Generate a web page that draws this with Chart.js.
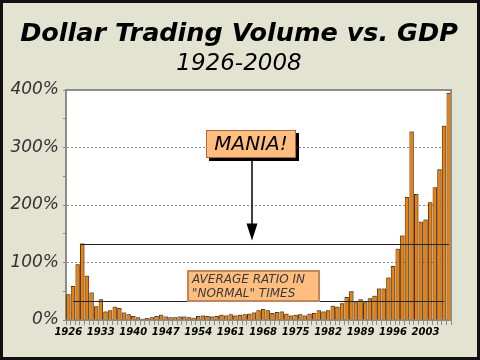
<!DOCTYPE html>
<html>
<head>
<meta charset="utf-8">
<script src="https://cdn.jsdelivr.net/npm/chart.js@4/dist/chart.umd.min.js"></script>
<style>
  html, body { margin: 0; padding: 0; background: #E3E3D1; }
  #wrap { width: 480px; height: 360px; position: relative; }
</style>
</head>
<body>
<div id="wrap"><canvas id="c" width="480" height="360"></canvas></div>
<script>
const titleText = "Dollar Trading Volume vs. GDP";
const subtitleText = "1926-2008";
const years = [
  "1926","1927","1928","1929","1930","1931","1932","1933","1934","1935",
  "1936","1937","1938","1939","1940","1941","1942","1943","1944","1945",
  "1946","1947","1948","1949","1950","1951","1952","1953","1954","1955",
  "1956","1957","1958","1959","1960","1961","1962","1963","1964","1965",
  "1966","1967","1968","1969","1970","1971","1972","1973","1974","1975",
  "1976","1977","1978","1979","1980","1981","1982","1983","1984","1985",
  "1986","1987","1988","1989","1990","1991","1992","1993","1994","1995",
  "1996","1997","1998","1999","2000","2001","2002","2003","2004","2005",
  "2006","2007","2008"
];
const ratioPct = [
  45, 59, 97, 133, 77, 48, 24, 36, 15, 17,
  23, 21, 13, 10, 7, 5, 2, 3.5, 5, 7,
  9, 6, 5, 5, 6, 6, 5, 4, 7, 8,
  7, 6, 7, 9, 8, 10, 8, 9, 10, 11,
  13, 17, 19, 17, 12, 14, 15, 11, 8, 9,
  10, 8, 11, 12, 17, 15, 17, 25, 23, 29,
  40, 50, 31, 36, 31, 38, 42, 55, 55, 74,
  94, 124, 147, 214, 328, 219, 171, 175, 205, 231,
  262, 338, 395
];
const xTickLabels = ["1926","1933","1940","1947","1954","1961","1968","1975","1982","1989","1996","2003"];
const yTickLabels = [0, 100, 200, 300, 400];
const maniaLevel = 133;
const maniaLineFrom = "1929";
const normalLevel = 33;
const normalLineFrom = "1927";
const normalLineTo = "2007";
const maniaLabel = "MANIA!";
const normalLabelLines = ["AVERAGE RATIO IN", "\"NORMAL\" TIMES"];

const bgPlugin = {
  id: 'bg',
  beforeDraw(chart) {
    const ctx = chart.ctx, a = chart.chartArea;
    ctx.save();
    ctx.fillStyle = '#E3E3D1';
    ctx.fillRect(0, 0, chart.width, chart.height);
    ctx.fillStyle = '#FFFFFF';
    ctx.fillRect(a.left, a.top, a.right - a.left, a.bottom - a.top);
    ctx.fillStyle = '#000';
    ctx.textAlign = 'center';
    ctx.textBaseline = 'alphabetic';
    ctx.font = 'italic bold 25.5px "DejaVu Sans"';
    ctx.fillText(titleText, 239, 41);
    ctx.font = 'italic 23px "DejaVu Sans"';
    ctx.fillText(subtitleText, 239, 70);
    ctx.restore();
  },
  beforeDatasetsDraw(chart) {
    const ctx = chart.ctx;
    ctx.save();
    ctx.shadowColor = 'rgba(90,90,90,0.6)';
    ctx.shadowOffsetX = 1;
    ctx.shadowOffsetY = -1;
    ctx.shadowBlur = 0;
  },
  afterDatasetsDraw(chart) {
    const ctx = chart.ctx, a = chart.chartArea;
    ctx.restore();
    const xs = chart.scales.x, ys = chart.scales.y;
    const half = (xs.getPixelForValue(1) - xs.getPixelForValue(0)) / 2;
    ctx.save();
    // frame
    ctx.strokeStyle = '#8c8c8c';
    ctx.lineWidth = 2;
    ctx.beginPath();
    ctx.moveTo(a.left, a.top); ctx.lineTo(a.right, a.top); ctx.lineTo(a.right, a.bottom);
    ctx.stroke();
    // mania line
    ctx.strokeStyle = '#222';
    ctx.lineWidth = 1.2;
    let y1 = Math.round(ys.getPixelForValue(maniaLevel)) + 0.5;
    ctx.beginPath();
    ctx.moveTo(xs.getPixelForValue(years.indexOf(maniaLineFrom)) - half, y1);
    ctx.lineTo(a.right - 2, y1);
    ctx.stroke();
    // normal line
    let y2 = Math.round(ys.getPixelForValue(normalLevel)) + 0.5;
    ctx.beginPath();
    ctx.moveTo(xs.getPixelForValue(years.indexOf(normalLineFrom)), y2);
    ctx.lineTo(xs.getPixelForValue(years.indexOf(normalLineTo)), y2);
    ctx.stroke();

    // MANIA box with shadow
    const bx = 206, by = 130, bw = 90, bh = 28;
    ctx.fillStyle = '#000';
    ctx.fillRect(bx + 3, by + 3, bw, bh);
    ctx.fillStyle = '#FFBE80';
    ctx.fillRect(bx, by, bw, bh);
    ctx.strokeStyle = '#A86A3A';
    ctx.lineWidth = 1;
    ctx.strokeRect(bx + 0.5, by + 0.5, bw - 1, bh - 1);
    ctx.fillStyle = '#000';
    ctx.font = 'italic 20px "DejaVu Sans"';
    ctx.textAlign = 'center';
    ctx.textBaseline = 'middle';
    ctx.fillText(maniaLabel, bx + bw / 2, by + bh / 2 + 1);
    // arrow
    const ax = 252;
    const tipY = y1 - 4;
    ctx.strokeStyle = '#000';
    ctx.lineWidth = 1.5;
    ctx.beginPath();
    ctx.moveTo(ax, by + bh); ctx.lineTo(ax, tipY - 12);
    ctx.stroke();
    ctx.beginPath();
    ctx.moveTo(ax - 5.5, tipY - 17); ctx.lineTo(ax + 5.5, tipY - 17); ctx.lineTo(ax, tipY);
    ctx.closePath();
    ctx.fillStyle = '#000';
    ctx.fill();

    // normal box
    const nx = 187, ny = 270, nw = 133, nh = 32;
    ctx.fillStyle = '#FFBE80';
    ctx.fillRect(nx, ny, nw, nh);
    ctx.strokeStyle = '#C0855A';
    ctx.lineWidth = 2;
    ctx.strokeRect(nx + 1, ny + 1, nw - 2, nh - 2);
    ctx.fillStyle = '#3a3a3a';
    ctx.font = 'italic 12px "DejaVu Sans"';
    ctx.textAlign = 'left';
    ctx.fillText(normalLabelLines[0], nx + 5, ny + 9.5);
    ctx.fillText(normalLabelLines[1], nx + 5, ny + 23.5);

    // outer border
    ctx.strokeStyle = '#111';
    ctx.lineWidth = 3;
    ctx.strokeRect(1.5, 1.5, chart.width - 3, chart.height - 3);
    ctx.restore();
  }
};

new Chart(document.getElementById('c'), {
  type: 'bar',
  data: {
    labels: years,
    datasets: [{
      data: ratioPct,
      backgroundColor: '#F08000',
      borderColor: '#5A2A00',
      borderWidth: 1,
      borderSkipped: 'bottom',
      barPercentage: 0.95,
      categoryPercentage: 1.0
    }]
  },
  options: {
    responsive: false,
    animation: false,
    devicePixelRatio: 1,
    layout: { padding: { top: 90, left: 0, right: 29, bottom: 14 } },
    plugins: { legend: { display: false }, tooltip: { enabled: false }, title: { display: false } },
    scales: {
      x: {
        afterFit(s) { s.height = 26; },
        grid: { drawOnChartArea: false, drawTicks: true, tickLength: 5, tickColor: '#8c8c8c' },
        border: { color: '#8c8c8c', width: 2 },
        ticks: {
          autoSkip: false, maxRotation: 0, minRotation: 0, padding: 1,
          color: '#000',
          font: { family: 'DejaVu Sans', size: 10, weight: 'bold', style: 'italic' },
          callback(v, i) { const l = years[i]; return xTickLabels.includes(l) ? l : ''; }
        }
      },
      y: {
        min: 0, max: 400,
        afterFit(s) { s.width = 66; },
        border: { color: '#8c8c8c', width: 2, dash: [2, 2] },
        grid: {
          drawTicks: true, tickLength: 3,
          tickColor: '#8c8c8c',
          color(c) { const v = c.tick.value; return (v > 0 && v < 400 && v % 100 === 0) ? '#8a8a8a' : 'rgba(0,0,0,0)'; },
          lineWidth: 1
        },
        ticks: {
          stepSize: 50, padding: 4, color: '#333',
          font: { family: 'DejaVu Sans', size: 17, style: 'italic' },
          callback(v) { return yTickLabels.includes(v) ? v + '%' : ''; }
        }
      }
    }
  },
  plugins: [bgPlugin]
});
</script>
</body>
</html>
